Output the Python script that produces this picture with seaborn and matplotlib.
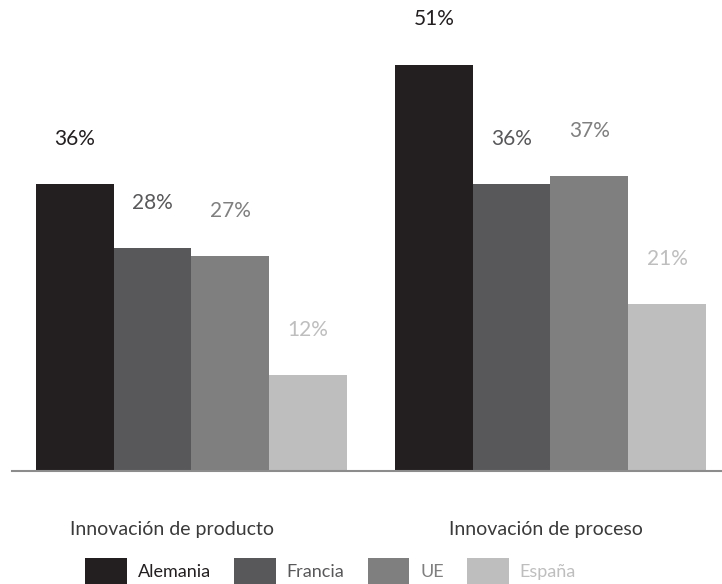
import matplotlib
matplotlib.use("Agg")
import matplotlib.pyplot as plt
import matplotlib.transforms as mtransforms
import seaborn as sns
import pandas as pd
from matplotlib.patches import Patch

categories = ["Innovación de producto", "Innovación de proceso"]
countries = ["Alemania", "Francia", "UE", "España"]
alemania = [36, 51]
francia = [28, 36]
ue = [27, 37]
espana = [12, 21]
colors = ["#231f20", "#58585a", "#807f80", "#bdbebd"]

rows = []
for c, vals in zip(countries, [alemania, francia, ue, espana]):
    for cat, v in zip(categories, vals):
        rows.append({"cat": cat, "country": c, "value": v})
df = pd.DataFrame(rows)

sns.set_theme(style="white")
plt.rcParams["font.family"] = ["Lato", "DejaVu Sans"]

fig = plt.figure(figsize=(7.22, 5.84), dpi=100)
ax = fig.add_axes([12 / 722, (584 - 471) / 584, 710 / 722, 471 / 584])
sns.barplot(data=df, x="cat", y="value", hue="country", order=categories,
            hue_order=countries, palette=colors, width=0.866, linewidth=0,
            saturation=1, ax=ax, legend=False)

for container, col in zip(ax.containers, colors):
    for bar in container:
        h = bar.get_height()
        ax.annotate(f"{h:.0f}%", (bar.get_x() + bar.get_width() / 2, h),
                    xytext=(0, 32.5), textcoords="offset points",
                    ha="center", va="center", fontsize=15, color=col)

ax.set_xlim(-0.5, 1.478)
ax.set_ylim(0, 59.1)
ax.set_xlabel("")
ax.set_ylabel("")
ax.set_yticks([])
ax.tick_params(axis="x", length=0, pad=36, labelsize=14, labelcolor="#3a3a3a")
# nudge category labels horizontally to match reference placement
shifts = [-19, -4]
for lbl, dx in zip(ax.get_xticklabels(), shifts):
    lbl.set_transform(lbl.get_transform() + mtransforms.ScaledTranslation(dx / 100, 0, fig.dpi_scale_trans))
for s in ["top", "right", "left"]:
    ax.spines[s].set_visible(False)
ax.spines["bottom"].set_color("#8c8c8c")
ax.spines["bottom"].set_linewidth(1.5)

handles = [Patch(facecolor=c, edgecolor="none") for c in colors]
leg = fig.legend(handles, countries, loc="lower center", bbox_to_anchor=(0.458, 0.0),
                 ncol=4, frameon=False, fontsize=13, handlelength=2.3,
                 handleheight=1.8, handletextpad=0.6, columnspacing=1.3,
                 borderpad=0, borderaxespad=0)
for t, c in zip(leg.get_texts(), colors):
    t.set_color(c)

fig.savefig("out.png", dpi=100)
